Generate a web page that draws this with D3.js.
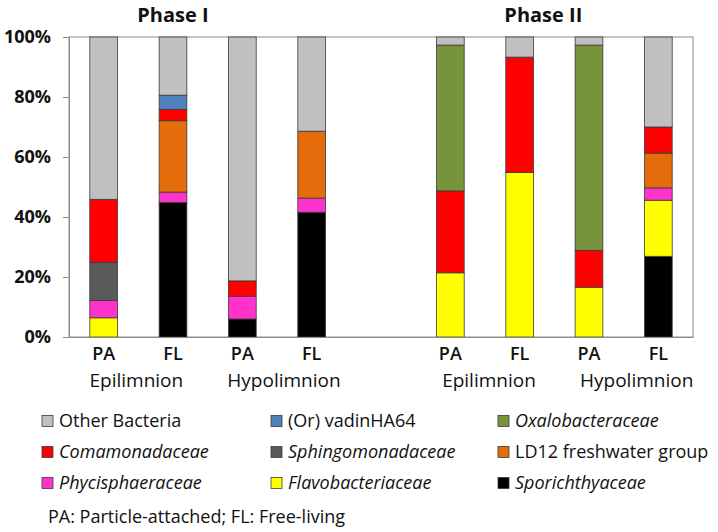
<!DOCTYPE html>
<html>
<head>
<meta charset="utf-8">
<script src="https://cdn.jsdelivr.net/npm/d3@7"></script>
<style>
  html, body { margin: 0; padding: 0; background: #fff; }
  svg { display: block; }
  text { font-family: "Open Sans", "Noto Sans", sans-serif; fill: #111; }
</style>
</head>
<body>
<svg id="chart" width="718" height="532"></svg>
<script>
// ---------- DATA ----------
const slots = ["I-Epi-PA", "I-Epi-FL", "I-Hypo-PA", "I-Hypo-FL", "gap", "II-Epi-PA", "II-Epi-FL", "II-Hypo-PA", "II-Hypo-FL"];
const samples = ["I-Epi-PA", "I-Epi-FL", "I-Hypo-PA", "I-Hypo-FL", "II-Epi-PA", "II-Epi-FL", "II-Hypo-PA", "II-Hypo-FL"];
const fractionLabels = ["PA", "FL", "PA", "FL", "PA", "FL", "PA", "FL"];
const layerLabels = ["Epilimnion", "Hypolimnion", "Epilimnion", "Hypolimnion"];
const phaseLabels = ["Phase I", "Phase II"];
const yTicks = [0, 20, 40, 60, 80, 100];

// series values (% of reads), one value per sample
const sporichthyaceae   = [0,    44.9, 6.0,  41.6, 0,    0,    0,    26.9];
const flavobacteriaceae = [6.4,  0,    0,    0,    21.4, 54.8, 16.6, 18.7];
const phycisphaeraceae  = [5.8,  3.4,  7.6,  4.7,  0,    0,    0,    4.1];
const sphingomonadaceae = [12.7, 0,    0,    0,    0,    0,    0,    0];
const ld12              = [0,    23.8, 0,    22.3, 0,    0,    0,    11.6];
const comamonadaceae    = [21.0, 3.8,  5.1,  0,    27.3, 38.5, 12.3, 8.7];
const vadinHA64         = [0,    4.7,  0,    0,    0,    0,    0,    0];
const oxalobacteraceae  = [0,    0,    0,    0,    48.6, 0,    68.4, 0];
const otherBacteria     = [54.1, 19.4, 81.3, 31.4, 2.7,  6.7,  2.7,  30.0];

// stacking order bottom -> top
const seriesKeys = ["spor", "flavo", "phyc", "sphingo", "ld12", "coma", "vadin", "oxalo", "other"];
const seriesValues = [sporichthyaceae, flavobacteriaceae, phycisphaeraceae, sphingomonadaceae, ld12, comamonadaceae, vadinHA64, oxalobacteraceae, otherBacteria];
const seriesNames = ["Sporichthyaceae", "Flavobacteriaceae", "Phycisphaeraceae", "Sphingomonadaceae", "LD12 freshwater group", "Comamonadaceae", "(Or) vadinHA64", "Oxalobacteraceae", "Other Bacteria"];
const seriesItalic = [true, true, true, true, false, true, false, true, false];
const seriesColors = ["#000000", "#FFFF00", "#FF33CC", "#595959", "#E46C0A", "#FF0000", "#4F81BD", "#77933C", "#C0C0C0"];
// legend order (row-major, 3 columns)
const legendOrder = ["other", "vadin", "oxalo", "coma", "sphingo", "ld12", "phyc", "flavo", "spor"];
const footnote = "PA: Particle-attached; FL: Free-living";

// ---------- LAYOUT ----------
const svg = d3.select("#chart");
const plot = { left: 69, right: 693, top: 37, bottom: 337 };

const x = d3.scaleBand().domain(slots).range([plot.left, plot.right]).paddingInner(0.6).paddingOuter(0.3);
const y = d3.scaleLinear().domain([0, 100]).range([plot.bottom, plot.top]);

// table for the stack
const table = samples.map((s, i) => {
  const row = { sample: s };
  seriesKeys.forEach((k, j) => row[k] = seriesValues[j][i]);
  return row;
});
const stack = d3.stack().keys(seriesKeys)(table);

// plot frame
svg.append("rect")
  .attr("x", plot.left).attr("y", plot.top)
  .attr("width", plot.right - plot.left).attr("height", plot.bottom - plot.top)
  .attr("fill", "none").attr("stroke", "#8c8c8c").attr("stroke-width", 1);

// bars
const g = svg.append("g");
stack.forEach((layer, j) => {
  g.selectAll(null).data(layer.filter(d => d[1] - d[0] > 0)).enter().append("rect")
    .attr("x", d => x(d.data.sample))
    .attr("width", x.bandwidth())
    .attr("y", d => y(d[1]))
    .attr("height", d => y(d[0]) - y(d[1]))
    .attr("fill", seriesColors[j])
    .attr("stroke", "#3a3a3a")
    .attr("stroke-width", 0.8);
});

// y axis
const yAxis = d3.axisLeft(y).tickValues(yTicks).tickFormat(d => d + "%").tickSize(6).tickPadding(12);
const ya = svg.append("g").attr("transform", `translate(${plot.left},0)`).call(yAxis);
ya.select(".domain").attr("stroke", "#8c8c8c");
ya.selectAll(".tick line").attr("stroke", "#8c8c8c");
ya.selectAll(".tick text")
  .style("font-family", '"Open Sans", sans-serif')
  .style("font-size", "18px").style("font-weight", "700").attr("fill", "#111");

// x axis (fraction labels)
const xa = svg.append("g").attr("transform", `translate(0,${plot.bottom})`)
  .call(d3.axisBottom(x).tickValues(samples).tickSize(0).tickPadding(0).tickFormat((d) => fractionLabels[samples.indexOf(d)]));
xa.select(".domain").attr("stroke", "#8c8c8c");
xa.selectAll(".tick text")
  .attr("y", 23).attr("dy", 0)
  .style("font-family", '"Open Sans", sans-serif')
  .style("font-size", "18px").style("font-weight", "600").attr("fill", "#111");

// layer labels (under each PA/FL pair)
for (let k = 0; k < 4; k++) {
  const a = samples[2 * k], b = samples[2 * k + 1];
  const cx = (x(a) + x(b) + x.bandwidth()) / 2 + (k % 2 === 0 ? -2 : 7) + (k >= 2 ? 6 : 0);
  svg.append("text").attr("x", cx).attr("y", plot.bottom + 50)
    .attr("text-anchor", "middle")
    .style("font-size", "19px").style("font-weight", "500")
    .text(layerLabels[k]);
}

// phase titles
const phaseCenters = [
  x(samples[1]) + x.bandwidth() / 2,
  (x(samples[5]) + x(samples[6]) + x.bandwidth()) / 2 - 11
];
phaseLabels.forEach((p, i) => {
  svg.append("text").attr("x", phaseCenters[i]).attr("y", 22)
    .attr("text-anchor", "middle")
    .style("font-size", "20px").style("font-weight", "700")
    .text(p);
});

// legend
const legCols = [42, 271, 498];
const legRows = [421, 452, 483];
legendOrder.forEach((k, i) => {
  const j = seriesKeys.indexOf(k);
  const lx = legCols[i % 3], ly = legRows[Math.floor(i / 3)];
  svg.append("rect").attr("x", lx).attr("y", ly - 5.5).attr("width", 11).attr("height", 11)
    .attr("fill", seriesColors[j]).attr("stroke", "#3a3a3a").attr("stroke-width", 0.8);
  svg.append("text").attr("x", lx + 17).attr("y", ly).attr("dy", "0.35em")
    .style("font-size", "18px").style("font-weight", "500")
    .style("font-style", seriesItalic[j] ? "italic" : "normal")
    .text(seriesNames[j]);
});

svg.append("text").attr("x", 48).attr("y", 517).attr("dy", "0.35em")
  .style("font-size", "18px").style("font-weight", "500")
  .text(footnote);
</script>
</body>
</html>
